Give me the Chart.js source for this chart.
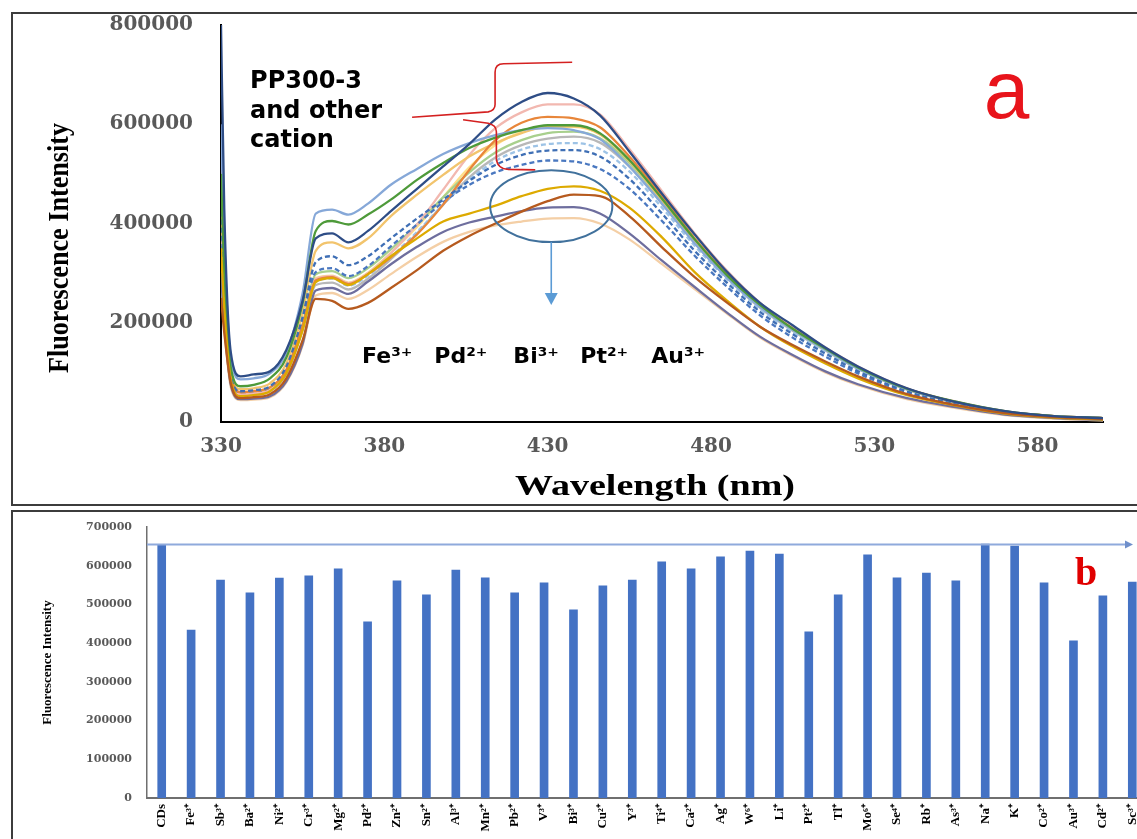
<!DOCTYPE html>
<html>
<head>
<meta charset="utf-8">
<script src="https://cdn.jsdelivr.net/npm/chart.js@4.4.1/dist/chart.umd.min.js"></script>
<style>
  html, body { margin: 0; padding: 0; background: #fff; }
  body { width: 1137px; height: 839px; overflow: hidden; position: relative; }
  .frame { position: absolute; border: 2px solid #3c3c3c; box-sizing: border-box; }
  #topFrame { left: 11px; top: 12px; width: 1140px; height: 494px; }
  #botFrame { left: 11px; top: 510px; width: 1140px; height: 340px; }
  canvas { position: absolute; }
  #spectra { left: 0; top: 0; }
  #bars { left: 0; top: 511px; }
</style>
</head>
<body>
<div class="frame" id="topFrame"></div>
<div class="frame" id="botFrame"></div>
<canvas id="spectra" width="1137" height="505"></canvas>
<canvas id="bars" width="1160" height="328"></canvas>
<script>
// emission spectra, intensity in thousands
const waveNm = [330, 331, 333, 336, 340, 345, 350, 355, 359, 364, 369, 375, 382, 390, 398, 406, 414, 422, 430, 438,
                446, 455, 465, 475, 485, 495, 505, 515, 525, 540, 555, 570, 585, 600];

const navyTrace    = [800, 430, 140, 92, 96, 102, 145, 245, 370, 380, 362, 385, 425, 470, 515, 560, 610, 645, 663, 652, 618, 545, 460, 378, 302, 240, 195, 150, 112, 68, 40, 22, 12, 8];
const iceTrace     = [600, 360, 130, 86, 88, 98, 140, 260, 420, 428, 418, 440, 478, 510, 540, 562, 578, 588, 592, 588, 570, 515, 440, 360, 290, 232, 186, 146, 108, 66, 40, 21, 12, 8];
const greenTrace   = [500, 300, 110, 72, 75, 88, 130, 240, 385, 405, 398, 418, 448, 488, 522, 552, 573, 588, 598, 598, 582, 528, 450, 368, 295, 236, 188, 148, 110, 67, 41, 22, 12, 8];
const goldTrace    = [450, 280, 100, 66, 68, 78, 118, 220, 345, 362, 350, 370, 415, 458, 498, 535, 562, 582, 596, 596, 580, 526, 447, 366, 294, 234, 187, 147, 109, 66, 40, 21, 12, 8];
const orangeTrace  = [520, 300, 95, 60, 62, 70, 105, 195, 285, 292, 278, 298, 332, 378, 438, 508, 568, 603, 615, 612, 594, 535, 455, 370, 297, 236, 188, 148, 110, 67, 40, 21, 12, 8];
const brownTrace   = [250, 180, 78, 48, 50, 56, 88, 165, 248, 244, 228, 240, 270, 306, 345, 375, 400, 424, 445, 458, 455, 415, 352, 292, 240, 192, 155, 122, 92, 56, 34, 18, 10, 6];
const yellowTrace  = [350, 230, 85, 52, 54, 62, 98, 185, 282, 290, 276, 298, 334, 370, 404, 420, 436, 455, 470, 475, 466, 432, 372, 302, 244, 192, 152, 118, 88, 54, 33, 17, 9, 5];
const slateTrace   = [300, 200, 75, 46, 47, 52, 82, 158, 265, 270, 258, 283, 318, 353, 383, 402, 414, 425, 432, 433, 420, 380, 325, 272, 220, 172, 135, 102, 76, 48, 30, 15, 8, 4];
const apricotTrace = [280, 190, 70, 44, 45, 50, 80, 155, 255, 260, 248, 266, 298, 333, 363, 383, 396, 404, 410, 411, 400, 368, 318, 268, 218, 170, 133, 100, 74, 46, 28, 14, 7, 3];
const pinkTrace    = [400, 250, 85, 56, 58, 65, 100, 190, 288, 294, 280, 300, 340, 398, 468, 538, 592, 624, 640, 640, 620, 550, 465, 380, 304, 240, 192, 150, 112, 68, 41, 22, 12, 8];
const blueTrace    = [420, 260, 90, 60, 62, 70, 108, 205, 302, 310, 294, 314, 354, 398, 443, 478, 503, 518, 527, 525, 510, 470, 405, 335, 272, 215, 170, 132, 98, 60, 36, 19, 10, 6];
const sageTrace    = [380, 240, 88, 58, 60, 68, 104, 198, 298, 304, 290, 310, 348, 398, 453, 503, 543, 568, 582, 585, 572, 522, 445, 362, 292, 233, 186, 146, 108, 66, 40, 21, 11, 7];
const skyTrace     = [360, 230, 82, 55, 57, 64, 100, 190, 283, 289, 275, 295, 333, 383, 438, 488, 526, 549, 560, 562, 550, 505, 432, 355, 287, 228, 182, 143, 106, 65, 39, 20, 11, 7];
const greyTrace    = [330, 215, 80, 53, 55, 62, 97, 186, 276, 281, 267, 289, 328, 380, 438, 493, 533, 558, 571, 575, 563, 515, 440, 360, 290, 230, 184, 144, 107, 65, 39, 20, 11, 7];
const steelTrace   = [440, 270, 92, 62, 64, 72, 112, 212, 322, 334, 316, 334, 370, 410, 448, 486, 518, 538, 547, 548, 535, 490, 420, 345, 280, 222, 177, 138, 102, 62, 37, 19, 10, 6];
const creamTrace   = [370, 235, 84, 56, 58, 66, 102, 194, 290, 295, 281, 301, 341, 393, 453, 513, 558, 584, 594, 595, 580, 528, 448, 365, 294, 234, 187, 147, 109, 66, 40, 21, 12, 8];

const waveTicks = [330, 380, 430, 480, 530, 580];
const quenchIons = ['Fe³⁺', 'Pd²⁺', 'Bi³⁺', 'Pt²⁺', 'Au³⁺'];

// panel b: intensity with each cation
const ionLabels = ['CDs', 'Fe³⁺', 'Sb³⁺', 'Ba²⁺', 'Ni²⁺', 'Cr³⁺', 'Mg²⁺', 'Pd²⁺', 'Zn²⁺', 'Sn²⁺', 'Al³⁺', 'Mn²⁺',
                   'Pb²⁺', 'V³⁺', 'Bi³⁺', 'Cu²⁺', 'Y³⁺', 'Ti⁴⁺', 'Ca²⁺', 'Ag⁺', 'W⁶⁺', 'Li⁺', 'Pt²⁺', 'Tl⁺',
                   'Mo⁶⁺', 'Se⁴⁺', 'Rb⁺', 'As³⁺', 'Na⁺', 'K⁺', 'Co²⁺', 'Au³⁺', 'Cd²⁺', 'Sc³⁺'];
const ionIntensity = [655000, 434000, 563000, 530000, 568000, 574000, 592000, 455000, 561000, 525000, 589000, 569000,
                      530000, 556000, 486000, 548000, 563000, 610000, 592000, 623000, 638000, 630000, 429000, 525000,
                      628000, 569000, 581000, 561000, 656000, 651000, 556000, 406000, 522000, 558000];

// first entry ends up on top
const traces = [
  [navyTrace, '#2E4D86', []],
  [brownTrace, '#B65A1E', []],
  [yellowTrace, '#DDAA00', []],
  [slateTrace, '#6E6E9E', []],
  [apricotTrace, '#F4CFA6', []],
  [greenTrace, '#4E9A3A', []],
  [iceTrace, '#86A8D8', []],
  [steelTrace, '#3F6FB5', [5, 3]],
  [orangeTrace, '#E8863A', []],
  [goldTrace, '#F2C46D', []],
  [blueTrace, '#4A78C0', [5, 3]],
  [pinkTrace, '#F2B8B0', []],
  [sageTrace, '#A8D08D', []],
  [skyTrace, '#9DC3E6', [5, 3]],
  [greyTrace, '#B8B8B8', []],
  [creamTrace, '#FFE08A', []]
];

const tickGrey = '#595959';

function drawStretched(ctx, text, x, y, width, rotate) {
  ctx.save();
  ctx.translate(x, y);
  if (rotate) ctx.rotate(-Math.PI / 2);
  const w = ctx.measureText(text).width;
  ctx.scale(width / w, 1);
  ctx.fillText(text, 0, 0);
  ctx.restore();
}

// keep the tick padding from pushing the plot area down
function noVerticalPad(s) {
  s.paddingTop = 0;
  s.paddingBottom = 0;
}

const spectraNotes = {
  id: 'spectraNotes',
  afterDraw(chart) {
    const { ctx } = chart;
    const xs = chart.scales.x, ys = chart.scales.y;
    const X = v => xs.getPixelForValue(v);
    const Y = v => ys.getPixelForValue(v);
    ctx.save();

    // axis titles
    ctx.fillStyle = '#000';
    ctx.textAlign = 'center';
    ctx.textBaseline = 'middle';
    ctx.font = 'bold 30px "Liberation Serif"';
    drawStretched(ctx, 'Fluorescence Intensity', 60, 248, 250, true);
    drawStretched(ctx, 'Wavelength (nm)', 655, 487, 280, false);

    // sample label
    ctx.textAlign = 'left';
    ctx.textBaseline = 'alphabetic';
    ctx.font = 'bold 24px "DejaVu Sans"';
    ctx.fillText('PP300-3', X(338.9), Y(673));
    ctx.fillText('and other', X(338.9), Y(613));
    ctx.fillText('cation', X(338.9), Y(554));

    // red bracket
    ctx.strokeStyle = '#D42020';
    ctx.lineWidth = 1.6;
    ctx.beginPath();
    ctx.moveTo(X(388.5), Y(614));
    ctx.lineTo(X(411.8), Y(625));
    ctx.quadraticCurveTo(X(413.9), Y(628), X(413.9), Y(640));
    ctx.lineTo(X(413.9), Y(705));
    ctx.quadraticCurveTo(X(413.9), Y(722), X(416.5), Y(722));
    ctx.lineTo(X(437.5), Y(725));
    ctx.stroke();
    ctx.beginPath();
    ctx.moveTo(X(404.1), Y(609));
    ctx.lineTo(X(411.8), Y(602));
    ctx.quadraticCurveTo(X(414.3), Y(598), X(414.3), Y(585));
    ctx.lineTo(X(414.3), Y(530));
    ctx.quadraticCurveTo(X(414.6), Y(510), X(418), Y(509));
    ctx.lineTo(X(426.2), Y(508));
    ctx.stroke();

    // quenched group: ellipse, arrow and labels
    const cx = X(431.1), cy = Y(435);
    const rx = X(449.8) - cx, ry = Y(362.5) - cy;
    ctx.strokeStyle = '#41719C';
    ctx.lineWidth = 2;
    ctx.beginPath();
    ctx.ellipse(cx, cy, rx, ry, 0, 0, Math.PI * 2);
    ctx.stroke();

    const tip = Y(236);
    ctx.strokeStyle = '#5B9BD5';
    ctx.fillStyle = '#5B9BD5';
    ctx.lineWidth = 1.6;
    ctx.beginPath();
    ctx.moveTo(cx, cy + ry);
    ctx.lineTo(cx, tip - 10);
    ctx.stroke();
    ctx.beginPath();
    ctx.moveTo(cx - 6.5, tip - 12);
    ctx.lineTo(cx + 6.5, tip - 12);
    ctx.lineTo(cx, tip);
    ctx.closePath();
    ctx.fill();

    ctx.fillStyle = '#000';
    ctx.font = 'bold 22px "DejaVu Sans"';
    const ionNm = [373.2, 395.3, 419.5, 440, 461.7];
    quenchIons.forEach((ion, i) => ctx.fillText(ion, X(ionNm[i]), Y(119)));

    // panel letter
    ctx.fillStyle = '#E8141B';
    ctx.font = '82px "Liberation Sans"';
    ctx.fillText('a', X(563.5), Y(612));
    ctx.restore();
  }
};

new Chart(document.getElementById('spectra'), {
  type: 'line',
  data: {
    datasets: traces.map(([vals, color, dash]) => ({
      data: vals.map((v, i) => ({ x: waveNm[i], y: v })),
      borderColor: color,
      borderWidth: 2.3,
      borderDash: dash,
      pointRadius: 0,
      fill: false,
      cubicInterpolationMode: 'monotone'
    }))
  },
  options: {
    responsive: false,
    animation: false,
    devicePixelRatio: 1,
    layout: { padding: { left: 30, right: 34, top: 25, bottom: 0 } },
    plugins: { legend: { display: false }, tooltip: { enabled: false } },
    scales: {
      x: {
        type: 'linear',
        min: 330,
        max: 600,
        grid: { display: false, drawTicks: false },
        border: { display: true, color: '#000', width: 2 },
        afterBuildTicks(s) { s.ticks = waveTicks.map(v => ({ value: v })); },
        afterFit(s) { s.height = 83; },
        ticks: {
          padding: 13,
          color: tickGrey,
          font: { family: 'DejaVu Serif', size: 20, weight: 'bold' }
        }
      },
      y: {
        min: 0,
        max: 800,
        grid: { display: false, drawTicks: false },
        border: { display: true, color: '#000', width: 2 },
        afterFit(s) { s.width = 191; noVerticalPad(s); },
        ticks: {
          stepSize: 200,
          padding: 28,
          color: tickGrey,
          font: { family: 'DejaVu Serif', size: 20, weight: 'bold' },
          callback: v => v === 0 ? '0' : v + '000'
        }
      }
    }
  },
  plugins: [spectraNotes]
});

const barNotes = {
  id: 'barNotes',
  afterDatasetsDraw(chart) {
    const { ctx, chartArea } = chart;
    const y = chart.scales.y.getPixelForValue(ionIntensity[0]);
    const end = chartArea.right - 14;
    ctx.save();
    ctx.strokeStyle = '#8FAADC';
    ctx.fillStyle = '#6F8FCB';
    ctx.lineWidth = 2;
    ctx.beginPath();
    ctx.moveTo(chartArea.left, y);
    ctx.lineTo(end - 6, y);
    ctx.stroke();
    ctx.beginPath();
    ctx.moveTo(end - 8, y - 4);
    ctx.lineTo(end, y);
    ctx.lineTo(end - 8, y + 4);
    ctx.closePath();
    ctx.fill();

    ctx.fillStyle = '#E00000';
    ctx.font = 'bold 40px "Liberation Serif"';
    ctx.textBaseline = 'alphabetic';
    ctx.fillText('b', 1075, 74);
    ctx.restore();
  }
};

new Chart(document.getElementById('bars'), {
  type: 'bar',
  data: {
    labels: ionLabels,
    datasets: [{
      data: ionIntensity,
      backgroundColor: '#4472C4',
      borderWidth: 0,
      barThickness: 8
    }]
  },
  options: {
    responsive: false,
    animation: false,
    devicePixelRatio: 1,
    layout: { padding: { left: 30, right: 13, top: 16, bottom: 0 } },
    plugins: { legend: { display: false }, tooltip: { enabled: false } },
    scales: {
      x: {
        grid: { display: false, drawTicks: false },
        border: { display: true, color: '#6f6f6f', width: 2 },
        afterFit(s) { s.height = 41; },
        ticks: {
          autoSkip: false,
          minRotation: 90,
          maxRotation: 90,
          padding: 6,
          color: '#000',
          font: { family: 'Liberation Serif', size: 13, weight: 'bold' }
        }
      },
      y: {
        min: 0,
        max: 700000,
        grid: { display: false, drawTicks: false },
        border: { display: true, color: '#6f6f6f', width: 1.5 },
        afterFit(s) { s.width = 117; noVerticalPad(s); },
        title: {
          display: true,
          text: 'Fluorescence Intensity',
          color: '#000',
          padding: { top: 10, bottom: 0 },
          font: { family: 'Liberation Serif', size: 13, weight: 'bold' }
        },
        ticks: {
          stepSize: 100000,
          padding: 15,
          color: tickGrey,
          font: { family: 'DejaVu Serif', size: 11, weight: 'bold' },
          callback: v => String(v)
        }
      }
    }
  },
  plugins: [barNotes]
});
</script>
</body>
</html>
